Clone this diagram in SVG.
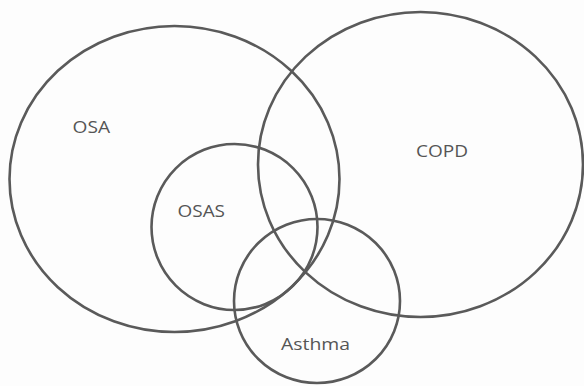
<svg xmlns="http://www.w3.org/2000/svg" width="584" height="386" viewBox="0 0 584 386">
<style>
.set{fill:none;stroke:#5a5a5a;stroke-width:2.6}
.lbl{font-family:"Open Sans","Liberation Sans",sans-serif;font-size:16px;fill:#555555}
</style>
<rect width="584" height="386" fill="#fdfdfd"/>
<g id="OSA"><ellipse class="set" cx="174.5" cy="179" rx="165" ry="153"/><text class="lbl" x="72.5" y="133" textLength="37.5" lengthAdjust="spacingAndGlyphs">OSA</text></g>
<g id="COPD"><ellipse class="set" cx="420.5" cy="164.5" rx="162.5" ry="152.5"/><text class="lbl" x="416" y="157" textLength="52" lengthAdjust="spacingAndGlyphs">COPD</text></g>
<g id="OSAS"><ellipse class="set" cx="234.5" cy="227" rx="83" ry="83"/><text class="lbl" x="177.5" y="217" textLength="47.5" lengthAdjust="spacingAndGlyphs">OSAS</text></g>
<g id="Asthma"><ellipse class="set" cx="317" cy="301" rx="83" ry="82"/><text class="lbl" x="281" y="350" textLength="69" lengthAdjust="spacingAndGlyphs">Asthma</text></g>
<g id="connectors"/>
</svg>
